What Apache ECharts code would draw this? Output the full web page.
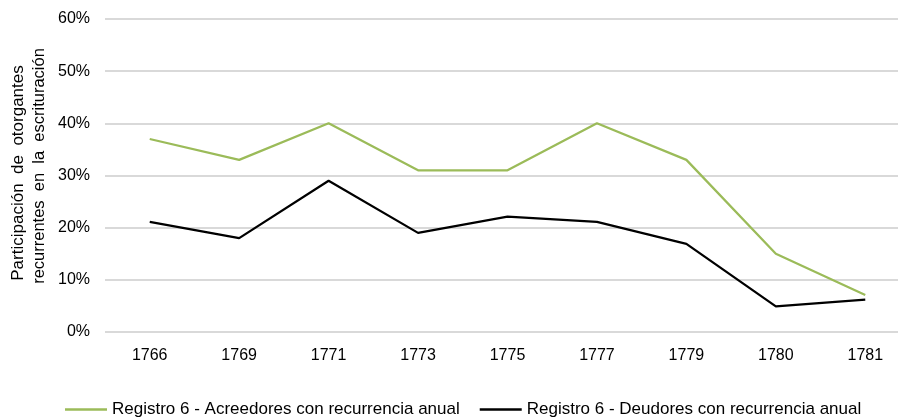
<!DOCTYPE html>
<html><head><meta charset="utf-8">
<script src="https://cdn.jsdelivr.net/npm/echarts@6/dist/echarts.min.js"></script>
<style>html,body{margin:0;padding:0;background:#fff}#c{width:898px;height:417px}</style>
</head><body><div id="c"></div>
<script>
const categories = ['1766','1769','1771','1773','1775','1777','1779','1780','1781'];
const acreedores = [37, 33, 40, 31, 31, 40, 33, 15, 7.1];
const deudores = [21.1, 18, 29, 19, 22.1, 21.1, 16.9, 4.9, 6.2];
const seriesNames = ['Registro 6 - Acreedores con recurrencia anual', 'Registro 6 - Deudores con recurrencia anual'];
const yTicks = [0, 10, 20, 30, 40, 50, 60];
const yTitle = ['Participación  de  otorgantes', 'recurrentes  en  la  escrituración'];
const font = '"Liberation Sans", Arial, sans-serif';
const chart = echarts.init(document.getElementById('c'), null, {renderer: 'canvas'});
chart.setOption({
  animation: false,
  grid: {left: 105, right: -12, top: 19, bottom: 85, containLabel: false, outerBoundsMode: 'none'},
  legend: {
    top: 396, left: 60, itemWidth: 42, itemHeight: 2.5, itemGap: 20, icon: 'rect',
    textStyle: {fontFamily: font, fontSize: 17, color: '#000'},
    data: seriesNames
  },
  graphic: [
    {type: 'text', x: 18, y: 173, rotation: Math.PI / 2,
     style: {text: yTitle[0], font: '17px ' + font, fill: '#000', align: 'center', verticalAlign: 'middle'}},
    {type: 'text', x: 39, y: 166, rotation: Math.PI / 2,
     style: {text: yTitle[1], font: '16.5px ' + font, fill: '#000', align: 'center', verticalAlign: 'middle'}}
  ],
  xAxis: {
    type: 'category', data: categories, boundaryGap: true,
    axisLine: {show: false}, axisTick: {show: false},
    axisLabel: {fontFamily: font, fontSize: 16, color: '#000', margin: 16}
  },
  yAxis: {
    type: 'value', min: yTicks[0], max: yTicks[yTicks.length - 1], interval: 10,
    axisLine: {show: false}, axisTick: {show: false},
    splitLine: {lineStyle: {color: '#d9d9d9', width: 2}},
    axisLabel: {fontFamily: font, fontSize: 16, color: '#000', margin: 15, formatter: v => v + '%'}
  },
  series: [
    {name: seriesNames[0], type: 'line', data: acreedores, symbol: 'none', lineStyle: {color: '#9bbb59', width: 2.25}, itemStyle: {color: '#9bbb59'}},
    {name: seriesNames[1], type: 'line', data: deudores, symbol: 'none', lineStyle: {color: '#000000', width: 2.25}, itemStyle: {color: '#000000'}}
  ]
});
</script></body></html>
